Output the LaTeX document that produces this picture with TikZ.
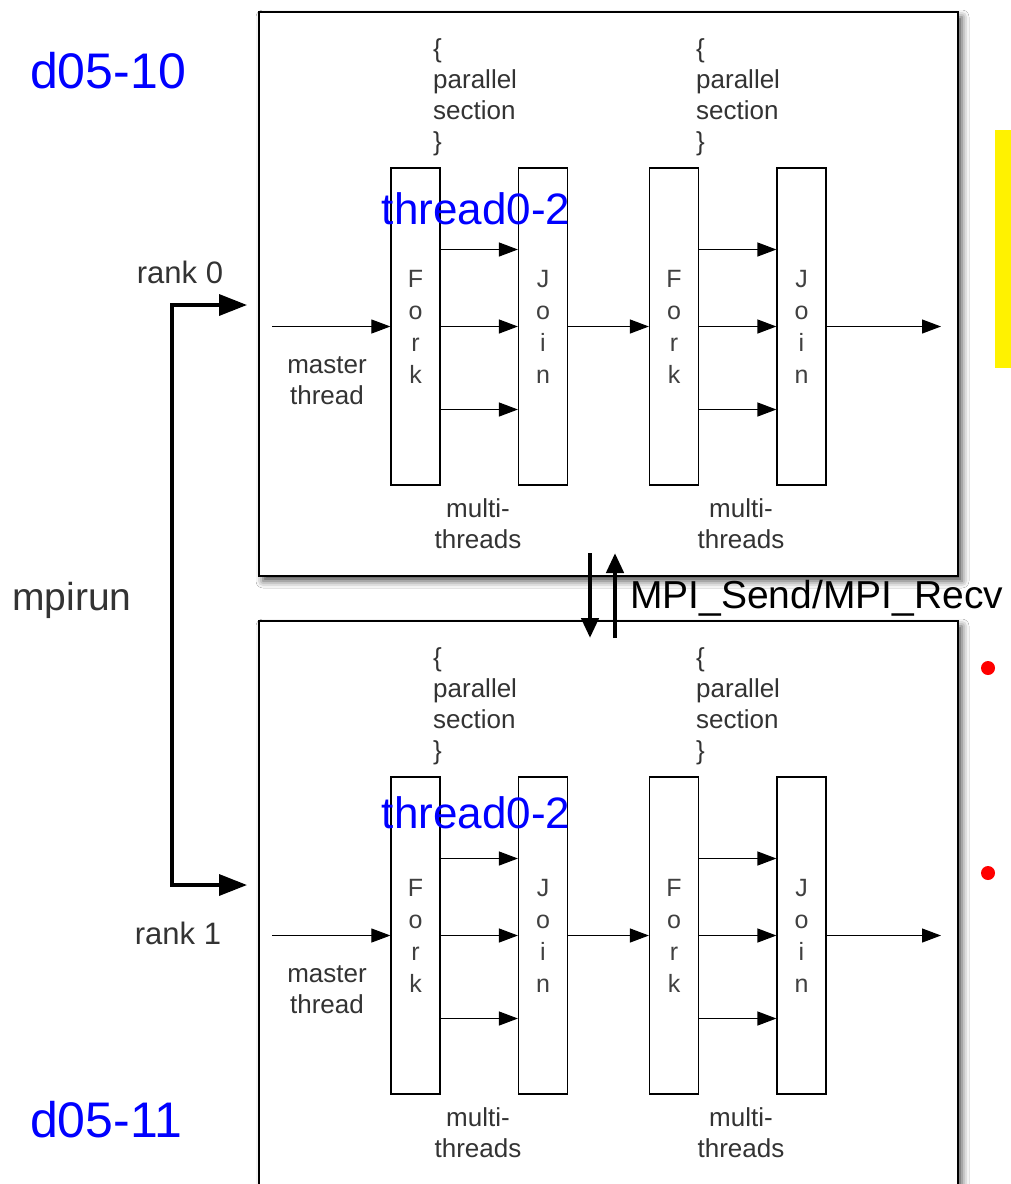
\documentclass[tikz,border=0pt]{standalone}
\usepackage{fontspec}
\setmainfont{Liberation Sans}
\usetikzlibrary{arrows.meta,positioning,shadows.blur}

\begin{document}
\begin{tikzpicture}[x=1pt,y=-1pt]
\tikzset{
  panel/.style={draw,line width=1.8pt,fill=white,minimum width=699pt,inner sep=0pt,
    blur shadow={shadow xshift=4pt,shadow yshift=-5pt,shadow blur radius=7pt,shadow opacity=70}},
  bar/.style={draw,line width=1.2pt,fill=white,minimum width=49pt,minimum height=317pt,inner sep=0pt,
    align=center,font=\fontsize{25}{32}\selectfont,text=black!75},
  figtext/.style={inner sep=0pt,align=center,font=\fontsize{26}{31}\selectfont,text=black!80},
  bluetext/.style={inner sep=0pt,text=blue},
  thread/.style={-{Triangle[length=19pt,width=14pt]},line width=1.2pt},
  rankarrow/.style={-{Triangle[length=28pt,width=21pt]},line width=3.5pt},
  msgarrow/.style={-{Triangle[length=20pt,width=17pt]},line width=4.5pt}
}
\useasboundingbox (0,0) rectangle (1011,1184);
\clip (0,0) rectangle (1011,1184);
\fill[white] (0,0) rectangle (1011,1184);

% the two nodes, one rank each
\node[panel,minimum height=564pt] (panel0) at (608.5,294) {};
\node[panel,minimum height=640pt] (panel1) at (608.5,941) {};

\foreach \r/\dy in {0/0,1/609}{
  \node[bar] (forkA\r) at (415.5,326.5+\dy) {F\\o\\r\\k};
  \node[bar] (joinA\r) at (543,326.5+\dy) {J\\o\\i\\n};
  \node[bar] (forkB\r) at (674,326.5+\dy) {F\\o\\r\\k};
  \node[bar] (joinB\r) at (801.5,326.5+\dy) {J\\o\\i\\n};
  \node[figtext,align=left,anchor=west] (parA\r) at (433,97+\dy) {\{\\parallel\\section\\\}};
  \node[figtext,align=left,anchor=west] (parB\r) at (696,97+\dy) {\{\\parallel\\section\\\}};
  \node[figtext] (multiA\r) at (478,524+\dy) {multi-\\threads};
  \node[figtext] (multiB\r) at (741,524+\dy) {multi-\\threads};
  \node[figtext] (master\r) at (327,381+\dy) {master\\thread};
  \coordinate (mstart\r) at (272,326.5+\dy);
  \coordinate (out\r) at (941,326.5+\dy);
  \draw[thread,line width=1pt] (mstart\r) -- (forkA\r.west);
  \foreach \s in {77,0,-83}{
    \draw[thread] ([yshift=\s pt]forkA\r.east) -- ([yshift=\s pt]joinA\r.west);
    \draw[thread] ([yshift=\s pt]forkB\r.east) -- ([yshift=\s pt]joinB\r.west);
  }
  \draw[thread] (joinA\r.east) -- (forkB\r.west);
  \draw[thread] (joinB\r.east) -- (out\r);
}
\node[bluetext,font=\fontsize{44}{50}\selectfont] (thr0) at (476,209) {thread0-2};
\node[bluetext,font=\fontsize{44}{50}\selectfont] (thr1) at (476,813) {thread0-2};

% mpirun launches both ranks
\coordinate (fanout) at (172,600);
\coordinate (rank0in) at (247,305);
\coordinate (rank1in) at (247,885);
\draw[rankarrow] (fanout) |- (rank0in);
\draw[rankarrow] (fanout) |- (rank1in);
\node[figtext,font=\fontsize{31}{36}\selectfont] (rank0) at (180,272) {rank 0};
\node[figtext,font=\fontsize{31}{36}\selectfont] (rank1) at (178,933) {rank 1};
\node[figtext,font=\fontsize{39}{44}\selectfont] (mpirun) at (72,600) {mpirun};

% message passing between the ranks
\coordinate (sendA) at (590,553);
\coordinate (sendB) at (590,638);
\coordinate (recvA) at (615,638);
\coordinate (recvB) at (615,553);
\draw[msgarrow] (sendA) -- (sendB);
\draw[msgarrow] (recvA) -- (recvB);
\node[inner sep=0pt,anchor=west,font=\fontsize{39}{44}\selectfont] (mpi) at (630,598) {MPI\_Send/MPI\_Recv};

\node[bluetext,font=\fontsize{50}{56}\selectfont] (host0) at (108,71) {d05-10};
\node[bluetext,font=\fontsize{50}{56}\selectfont] (host1) at (106,1120) {d05-11};

\fill[yellow] (995,130) rectangle (1011,368);
\fill[red] (988,668) circle (7);
\fill[red] (988,873) circle (7);
\end{tikzpicture}
\end{document}
